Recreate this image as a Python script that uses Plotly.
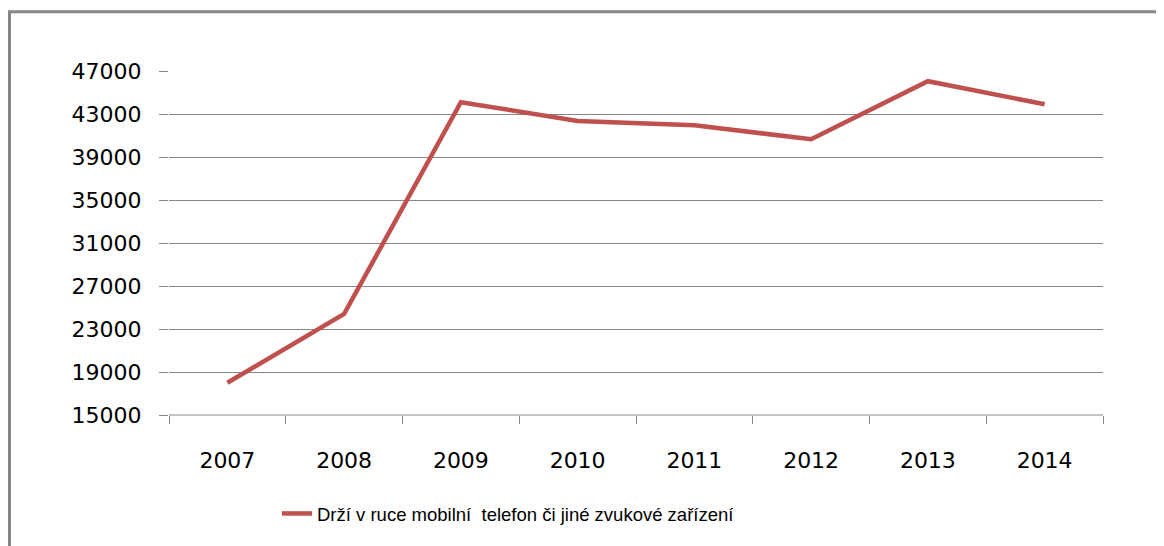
import plotly.graph_objects as go

years = ["2007", "2008", "2009", "2010", "2011", "2012", "2013", "2014"]
values = [18000, 24400, 44100, 42350, 41950, 40650, 46050, 43900]
series_name = "Drží v ruce mobilní  telefon či jiné zvukové zařízení"
y_ticks = [15000, 19000, 23000, 27000, 31000, 35000, 39000, 43000, 47000]

OFF = 8  # browser body margin
L, R, T, B = 169 - OFF, 61, 70.7 - OFF, 131
W, H = 1164 - OFF, 546 - OFF
pw = W - L - R
ph = H - T - B
BOT = 415 - OFF  # plot bottom in figure px


def px_x(p):
    return (p - OFF - L) / pw


def px_y(p):
    return (BOT - (p - OFF)) / ph


fig = go.Figure()
fig.add_trace(go.Scatter(
    x=years, y=values, mode="lines", name=series_name,
    line=dict(color="#C0504D", width=4.5),
))

fig.update_layout(
    width=W, height=H,
    margin=dict(l=L, r=R, t=T, b=B, pad=0),
    paper_bgcolor="white", plot_bgcolor="white",
    showlegend=True,
    legend=dict(
        orientation="h",
        x=px_x(277), xanchor="left",
        y=px_y(514), yanchor="middle",
        font=dict(family="Liberation Sans", size=18.5, color="#000000"),
        bgcolor="rgba(0,0,0,0)",
    ),
    xaxis=dict(
        type="category",
        tickson="boundaries",
        ticks="outside", ticklen=8, tickcolor="#868686", tickwidth=1,
        showgrid=False,
        showline=False,
        zeroline=False,
        tickfont=dict(family="DejaVu Sans", size=22, color="#000000"),
        ticklabelstandoff=30,
        range=[-0.5, 7.5],
    ),
    yaxis=dict(
        range=[15000, 47000],
        tickvals=y_ticks,
        ticktext=[str(v) for v in y_ticks],
        showgrid=True, gridcolor="#868686", gridwidth=1,
        ticks="outside", ticklen=9, tickcolor="#868686", tickwidth=1,
        showline=False, zeroline=False,
        tickfont=dict(family="DejaVu Sans", size=22, color="#000000"),
        ticklabelstandoff=13,
    ),
    shapes=[
        dict(type="line", xref="paper", yref="paper",
             x0=px_x(9.5), x1=px_x(9.5),
             y0=px_y(10.5), y1=px_y(560),
             line=dict(color="#868686", width=3)),
        dict(type="line", xref="paper", yref="paper",
             x0=px_x(8), x1=px_x(1180),
             y0=px_y(11.5), y1=px_y(11.5),
             line=dict(color="#868686", width=3)),
        dict(type="line", xref="paper", yref="paper",
             x0=0, x1=1, y0=0, y1=0,
             line=dict(color="#868686", width=1)),
    ],
)

fig.write_html("out.html")
